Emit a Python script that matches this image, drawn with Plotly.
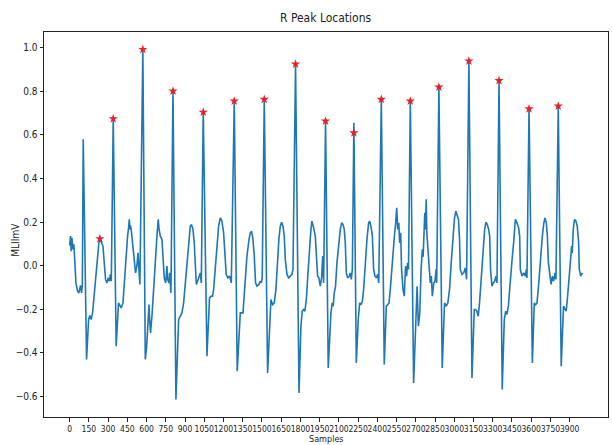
import plotly.graph_objects as go

# ECG trace (sample index, amplitude in mV) read as polyline vertices
sample = [
    0, 7, 12, 18, 26, 33, 41, 49, 62, 72, 85, 93, 99, 106, 132, 148, 158, 168, 179, 194,
    213, 228, 236, 241, 249, 260, 270, 280, 291, 301, 311, 317, 325, 340, 363, 374, 381, 389, 402, 416,
    426, 439, 452, 460, 465, 470, 475, 483, 494, 504, 514, 525, 533, 541, 548, 571, 590, 600, 611, 619,
    624, 631, 642, 655, 660, 668, 681, 691, 697, 707, 720, 728, 738, 749, 759, 764, 775, 780, 790, 806,
    829, 850, 863, 876, 889, 902, 915, 928, 941, 951, 962, 972, 980, 988, 998, 1009, 1019, 1027, 1042, 1071,
    1084, 1091, 1105, 1115, 1123, 1136, 1149, 1162, 1175, 1188, 1201, 1211, 1221, 1234, 1248, 1261, 1284, 1307, 1323, 1331,
    1352, 1362, 1372, 1383, 1399, 1409, 1419, 1430, 1440, 1450, 1461, 1476, 1487, 1495, 1502, 1518, 1544, 1559, 1570, 1583,
    1596, 1609, 1619, 1632, 1643, 1653, 1664, 1674, 1682, 1695, 1708, 1721, 1734, 1742, 1762, 1789, 1804, 1814, 1825, 1835,
    1846, 1859, 1872, 1882, 1890, 1898, 1906, 1916, 1923, 1934, 1944, 1955, 1965, 1974, 1981, 1996, 2017, 2027, 2038, 2048,
    2055, 2064, 2074, 2085, 2098, 2111, 2121, 2132, 2142, 2150, 2158, 2168, 2181, 2189, 2197, 2205, 2217, 2236, 2251, 2262,
    2272, 2283, 2293, 2306, 2319, 2332, 2340, 2350, 2361, 2371, 2382, 2392, 2403, 2411, 2431, 2454, 2470, 2480, 2491, 2501,
    2512, 2522, 2533, 2543, 2551, 2559, 2567, 2574, 2582, 2589, 2600, 2610, 2620, 2628, 2636, 2643, 2657, 2683, 2699, 2710,
    2720, 2731, 2741, 2751, 2757, 2763, 2770, 2775, 2781, 2786, 2795, 2805, 2813, 2821, 2829, 2840, 2850, 2858, 2863, 2880,
    2906, 2924, 2937, 2950, 2963, 2976, 2989, 3002, 3012, 3023, 3033, 3041, 3047, 3060, 3073, 3086, 3096, 3114, 3138, 3156,
    3166, 3177, 3187, 3197, 3210, 3224, 3237, 3247, 3257, 3268, 3276, 3283, 3294, 3304, 3315, 3325, 3333, 3349, 3374, 3390,
    3401, 3411, 3422, 3432, 3442, 3453, 3463, 3476, 3489, 3502, 3510, 3515, 3528, 3541, 3554, 3562, 3567, 3583, 3609, 3624,
    3635, 3645, 3655, 3666, 3676, 3687, 3697, 3707, 3718, 3726, 3734, 3744, 3755, 3765, 3775, 3786, 3793, 3811, 3834, 3852,
    3863, 3873, 3884, 3894, 3905, 3915, 3920, 3928, 3938, 3949, 3959, 3970, 3975, 3986, 3999,
]
mlii_mv = [
    0.092, 0.135, 0.066, 0.127, 0.074, 0.097, 0.012, -0.080, -0.118, -0.126, -0.092, -0.126, -0.090, 0.580, -0.432, -0.248, -0.230, -0.248, -0.218, -0.110,
    0.012, 0.104, 0.123, 0.115, 0.104, 0.089, 0.012, -0.064, -0.080, -0.057, -0.072, -0.041, -0.072, 0.675, -0.371, -0.264, -0.172, -0.180, -0.195, -0.172,
    -0.080, 0.043, 0.135, 0.173, 0.212, 0.166, 0.185, 0.150, 0.089, 0.012, -0.034, 0.000, 0.058, -0.020, -0.087, 0.993, -0.432, -0.380, -0.233, -0.180,
    -0.248, -0.310, -0.233, -0.126, -0.095, 0.012, 0.135, 0.212, 0.170, 0.135, 0.120, 0.043, -0.057, -0.080, -0.003, -0.064, -0.080, -0.034, -0.126, 0.802,
    -0.616, -0.248, -0.230, -0.218, -0.172, -0.080, 0.028, 0.120, 0.181, 0.188, 0.166, 0.104, -0.018, -0.087, -0.072, -0.049, -0.034, -0.080, 0.710, -0.417,
    -0.248, -0.149, -0.141, -0.141, -0.110, -0.018, 0.089, 0.181, 0.219, 0.204, 0.150, 0.043, -0.041, -0.057, -0.049, -0.080, 0.756, -0.486, -0.264, -0.218,
    -0.218, -0.141, -0.049, 0.043, 0.120, 0.150, 0.158, 0.120, 0.043, -0.080, -0.095, -0.087, -0.072, -0.080, -0.057, 0.764, -0.494, -0.279, -0.156, -0.180,
    -0.172, -0.110, 0.012, 0.120, 0.181, 0.199, 0.181, 0.135, 0.028, -0.041, -0.057, -0.049, -0.041, -0.018, 0.926, -0.586, -0.279, -0.210, -0.202, -0.210,
    -0.156, -0.034, 0.089, 0.166, 0.204, 0.189, 0.166, 0.135, 0.043, -0.049, -0.057, -0.095, -0.057, 0.043, -0.080, 0.664, -0.471, -0.325, -0.218, -0.172,
    -0.187, -0.126, -0.095, 0.012, 0.104, 0.166, 0.196, 0.189, 0.166, 0.104, -0.034, -0.057, -0.049, -0.034, -0.064, -0.018, 0.656, -0.448, -0.248, -0.172,
    -0.180, -0.164, -0.110, 0.012, 0.120, 0.196, 0.204, 0.181, 0.135, -0.018, -0.049, -0.057, -0.041, -0.080, 0.764, -0.455, -0.187, -0.180, -0.172, -0.110,
    -0.018, 0.074, 0.135, 0.196, 0.265, 0.166, 0.196, 0.104, 0.150, -0.018, -0.110, -0.141, -0.003, -0.049, 0.012, -0.018, 0.756, -0.540, -0.218, -0.095,
    -0.279, -0.218, -0.018, 0.074, 0.040, 0.135, 0.242, 0.166, 0.304, 0.150, 0.074, -0.034, -0.080, -0.049, -0.141, -0.080, -0.072, -0.018, -0.080, 0.820,
    -0.471, -0.172, -0.187, -0.172, -0.110, 0.012, 0.120, 0.219, 0.250, 0.227, 0.212, 0.120, -0.018, -0.041, -0.034, -0.011, -0.064, 0.940, -0.517, -0.202,
    -0.202, -0.210, -0.233, -0.172, -0.049, 0.074, 0.166, 0.199, 0.189, 0.166, 0.135, -0.018, -0.095, -0.080, -0.072, -0.049, -0.080, 0.850, -0.570, -0.248,
    -0.210, -0.225, -0.187, -0.110, -0.018, 0.043, 0.104, 0.212, 0.196, 0.173, 0.135, -0.018, -0.049, -0.034, -0.049, -0.018, -0.057, 0.720, -0.448, -0.172,
    -0.180, -0.172, -0.110, -0.018, 0.074, 0.135, 0.189, 0.219, 0.196, 0.135, 0.012, -0.049, -0.087, -0.049, -0.072, -0.034, -0.064, 0.733, -0.463, -0.187,
    -0.202, -0.210, -0.141, -0.049, 0.012, 0.089, 0.058, 0.166, 0.212, 0.204, 0.181, 0.104, -0.018, -0.049, -0.034,
]

# Detected R peaks
peak_sample = [236, 340, 571, 806, 1042, 1284, 1518, 1762, 1996, 2217, 2431, 2657, 2880, 3114, 3349, 3583, 3811]
peak_mv = [0.123, 0.675, 0.993, 0.802, 0.705, 0.756, 0.764, 0.926, 0.664, 0.610, 0.764, 0.756, 0.820, 0.940, 0.850, 0.720, 0.733]

x_ticks = list(range(0, 4000, 150))
y_ticks = [-0.6, -0.4, -0.2, 0.0, 0.2, 0.4, 0.6, 0.8, 1.0]

FONT = "DejaVu Sans Condensed, Liberation Sans Narrow, DejaVu Sans, sans-serif"
INK = "#222"

fig = go.Figure()
fig.add_trace(go.Scatter(
    x=sample, y=mlii_mv, mode="lines",
    line=dict(color="#1f77b4", width=1.6),
    showlegend=False, hoverinfo="skip",
))
fig.add_trace(go.Scatter(
    x=peak_sample, y=peak_mv, mode="markers",
    marker=dict(symbol="star", size=7, color="#e8202a", line=dict(width=0)),
    showlegend=False,
))

# matplotlib-style 5% padding around the data extent
x_lo, x_hi = min(sample), max(sample)
y_lo, y_hi = min(mlii_mv), max(mlii_mv)
xpad = 0.05 * (x_hi - x_lo)
ypad = 0.05 * (y_hi - y_lo)

axis_common = dict(
    showline=True, linecolor=INK, linewidth=1, mirror=True,
    ticks="outside", ticklen=3.5, tickwidth=1, tickcolor=INK,
    showgrid=False, zeroline=False, automargin=False,
)

fig.update_layout(
    width=612, height=445,
    margin=dict(l=44, r=4, t=32, b=28),
    paper_bgcolor="white", plot_bgcolor="white",
    title=dict(text="R Peak Locations", x=0.532, xanchor="center", y=0.96, yanchor="middle",
               font=dict(family=FONT, size=12, color=INK)),
    xaxis=dict(range=[x_lo - xpad, x_hi + xpad], tickvals=x_ticks, tickangle=0,
               tickfont=dict(family=FONT, size=8.5, color=INK),
               **axis_common),
    yaxis=dict(range=[y_lo - ypad, y_hi + ypad], tickvals=y_ticks, tickformat=".1f",
               tickfont=dict(family=FONT, size=10, color=INK),
               **axis_common),
    annotations=[
        dict(text="Samples", xref="paper", yref="paper", x=0.5, y=-0.056,
             xanchor="center", yanchor="middle", showarrow=False,
             font=dict(family=FONT, size=9, color=INK)),
        dict(text="MLIImV", xref="paper", yref="paper", x=-0.05, y=0.46,
             xanchor="center", yanchor="middle", textangle=-90, showarrow=False,
             font=dict(family=FONT, size=10, color=INK)),
    ],
)

fig.write_html("out.html")
